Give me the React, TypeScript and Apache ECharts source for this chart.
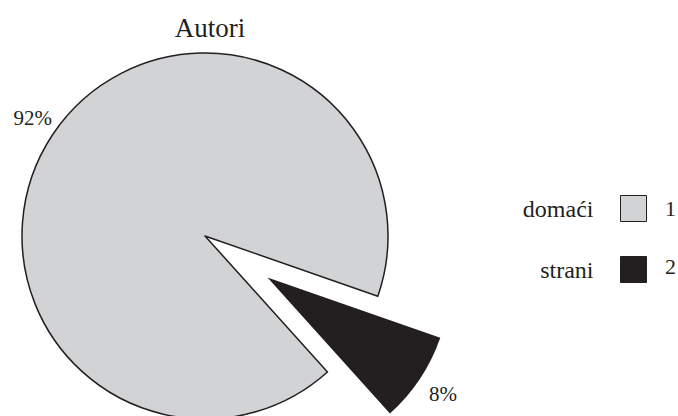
import React, { useEffect, useRef } from "react";
import * as echarts from "echarts";

const titleText = "Autori";
const categories = ["domaći", "strani"];
const values = [92, 8];
const legendNumbers = ["1", "2"];
const colors = ["#d1d3d4", "#231f20"];

const FONT = "'Liberation Serif', 'DejaVu Serif', serif";

export default function App() {
  const ref = useRef<HTMLDivElement>(null);
  useEffect(() => {
    if (!ref.current) return;
    const chart = echarts.init(ref.current, null, { renderer: "svg" });
    const data = categories.map((name, i) => ({
      name,
      value: values[i],
      selected: i === 1,
      itemStyle: {
        color: colors[i],
        borderColor: "#231f20",
        borderWidth: i === 0 ? 1.5 : 0,
      },
    }));
    const labelPos = [
      { x: 52, y: 118, align: "right" },
      { x: 429, y: 394, align: "left" },
    ];
    chart.setOption({
      animation: false,
      backgroundColor: "#ffffff",
      title: {
        text: titleText,
        left: 205,
        textAlign: "center",
        top: 9,
        textStyle: { fontFamily: FONT, fontSize: 27, fontWeight: "normal", color: "#231f20" },
      },
      legend: [
        {
          orient: "vertical",
          right: 26,
          top: 190,
          align: "right",
          icon: "rect",
          itemWidth: 26,
          itemHeight: 26,
          itemGap: 34,
          selectedMode: false,
          data: categories,
          itemStyle: { borderColor: "#231f20", borderWidth: 1 },
          textStyle: {
            fontFamily: FONT,
            fontSize: 24,
            color: "#231f20",
            padding: [0, 22, 0, 0],
          },
        },
        {
          orient: "vertical",
          left: 655,
          top: 190,
          align: "left",
          icon: "none",
          itemWidth: 0,
          itemHeight: 26,
          itemGap: 34,
          selectedMode: false,
          data: categories,
          formatter: (name: string) => legendNumbers[categories.indexOf(name)],
          textStyle: { fontFamily: FONT, fontSize: 22, color: "#231f20" },
        },
      ],
      graphic: values.map((v, i) => ({
        type: "text",
        x: labelPos[i].x,
        y: labelPos[i].y,
        z: 100,
        style: {
          text: `${v}%`,
          fontFamily: FONT,
          fontSize: 21,
          fill: "#231f20",
          align: labelPos[i].align,
          verticalAlign: "middle",
        },
      })),
      series: [
        {
          type: "pie",
          center: [205, 236],
          radius: 183,
          startAngle: 312,
          clockwise: true,
          selectedMode: "single",
          selectedOffset: 75,
          data,
          emphasis: { disabled: true },
          label: { show: false },
          labelLine: { show: false },
        },
      ],
    });
    return () => chart.dispose();
  }, []);
  return (
    <div
      ref={ref}
      style={{ position: "absolute", left: 0, top: 0, width: 678, height: 416 }}
    />
  );
}
